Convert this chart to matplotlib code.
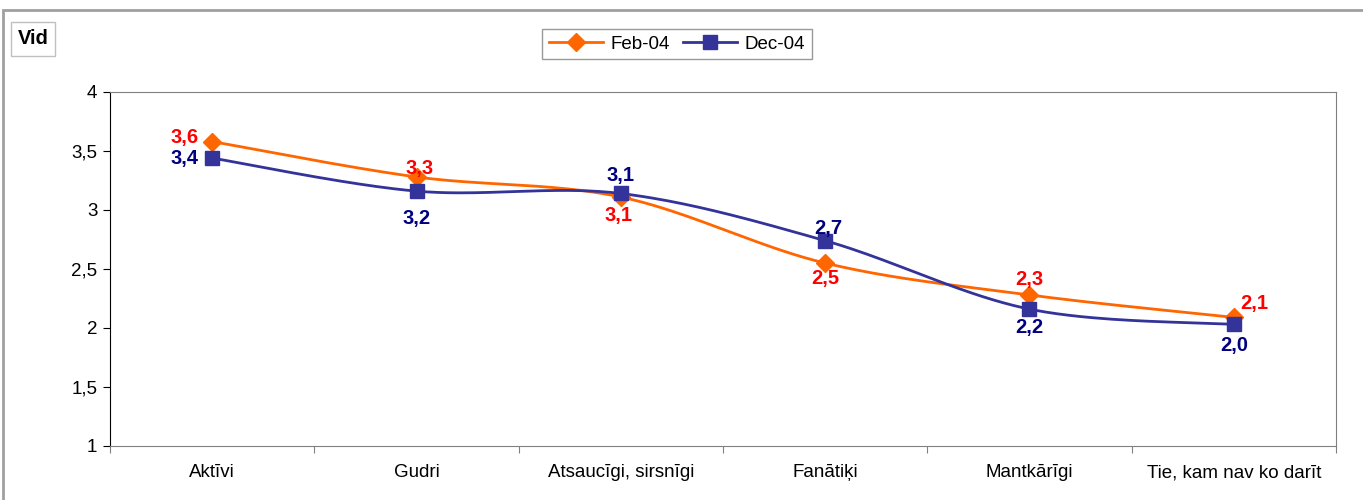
import numpy as np
import matplotlib
matplotlib.use("Agg")
import matplotlib.pyplot as plt
from matplotlib.lines import Line2D
from matplotlib.patches import Rectangle

plt.rcParams['font.family'] = ['Liberation Sans', 'DejaVu Sans']

categories = ['Aktīvi', 'Gudri', 'Atsaucīgi, sirsnīgi', 'Fanātiķi', 'Mantkārīgi', 'Tie, kam nav ko darīt']
feb_04 = [3.58, 3.28, 3.11, 2.55, 2.28, 2.09]
dec_04 = [3.44, 3.16, 3.14, 2.74, 2.16, 2.03]
yticks = [1, 1.5, 2, 2.5, 3, 3.5, 4]

# label offsets in points (dx, dy) per point, as placed in the original
feb_offsets = [(-20, 3), (2, 6), (-2, -13), (0, -11), (0, 11), (15, 10)]
dec_offsets = [(-20, 0), (0, -20), (0, 13), (2, 9), (0, -13), (0, -15)]

ORANGE = '#FF6600'
NAVY = '#333399'


def smooth(xs, ys, n=40):
    # Catmull-Rom style bezier, like the smoothed line of a spreadsheet
    pts = np.column_stack([xs, ys])
    P = np.vstack([pts[0], pts, pts[-1]])
    out = []
    t = np.linspace(0, 1, n)[:, None]
    for i in range(1, len(P) - 2):
        p0, p1, p2, p3 = P[i - 1], P[i], P[i + 1], P[i + 2]
        c1 = p1 + (p2 - p0) / 6
        c2 = p2 - (p3 - p1) / 6
        seg = ((1 - t) ** 3) * p1 + 3 * ((1 - t) ** 2) * t * c1 + 3 * (1 - t) * t ** 2 * c2 + t ** 3 * p2
        out.append(seg if i == 1 else seg[1:])
    out = np.vstack(out)
    return out[:, 0], out[:, 1]


fig = plt.figure(figsize=(13.63, 5), dpi=100)
fig.patches.append(Rectangle((3 / 1363, -0.05), 1.0, 0.05 + 490 / 500, transform=fig.transFigure,
                             fill=False, edgecolor='#A0A0A0', linewidth=2))

ax = fig.add_axes([110 / 1363, 54 / 500, 1226 / 1363, 354 / 500])
x = np.arange(len(categories)) + 0.5

sx, sy = smooth(x, feb_04)
ax.plot(sx, sy, color=ORANGE, linewidth=2, zorder=3)
ax.plot(x, feb_04, linestyle='none', marker='D', markersize=9, color=ORANGE, zorder=4)
sx, sy = smooth(x, dec_04)
ax.plot(sx, sy, color=NAVY, linewidth=2, zorder=3)
ax.plot(x, dec_04, linestyle='none', marker='s', markersize=10, color=NAVY, zorder=4)

for xi, v, off in zip(x, feb_04, feb_offsets):
    ax.annotate(f'{v:.1f}'.replace('.', ','), (xi, v), xytext=off, textcoords='offset points',
                ha='center', va='center', color='#FF0000', fontsize=14.5, fontweight='bold', zorder=5)
for xi, v, off in zip(x, dec_04, dec_offsets):
    ax.annotate(f'{v:.1f}'.replace('.', ','), (xi, v), xytext=off, textcoords='offset points',
                ha='center', va='center', color='#000080', fontsize=14.5, fontweight='bold', zorder=5)

ax.set_xlim(0, len(categories))
ax.set_ylim(1, 4)
ax.set_yticks(yticks)
ax.set_yticklabels([f'{t:g}'.replace('.', ',') for t in yticks], fontsize=13.5)
ax.set_xticks(np.arange(len(categories) + 1))
ax.set_xticklabels([])
ax.set_xticks(x, minor=True)
ax.set_xticklabels(categories, minor=True, fontsize=13.5)
ax.tick_params(axis='x', which='minor', length=0, pad=13)
ax.tick_params(axis='x', which='major', length=5, color='#808080', direction='out')
ax.tick_params(axis='y', length=5, color='black', direction='out', pad=4)
for side in ['top', 'right', 'bottom']:
    ax.spines[side].set_color('#808080')
ax.spines['left'].set_color('black')

handles = [Line2D([], [], color=ORANGE, marker='D', markersize=9, linewidth=2, label='Feb-04'),
           Line2D([], [], color=NAVY, marker='s', markersize=10, linewidth=2, label='Dec-04')]
leg = fig.legend(handles=handles, loc='center', bbox_to_anchor=(677 / 1363, 1 - 44 / 500), ncol=2,
                 fontsize=13.5, frameon=True, fancybox=False, edgecolor='#808080',
                 handlelength=2.9, columnspacing=0.7, handletextpad=0.4, borderpad=0.35)
leg.get_frame().set_linewidth(1)

fig.text(33 / 1363, 1 - 39 / 500, 'Vid', ha='center', va='center', fontsize=14.5, fontweight='bold',
         bbox=dict(boxstyle='square,pad=0.35', facecolor='white', edgecolor='#C0C0C0'))

fig.savefig('out.png', dpi=100)
